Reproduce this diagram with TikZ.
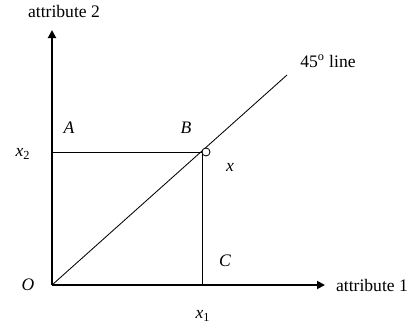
\documentclass[tikz,border=0pt]{standalone}
\usepackage{fontspec}
\setmainfont{Liberation Serif}
\usetikzlibrary{arrows.meta}

\begin{document}
\begin{tikzpicture}[
    x=0.025cm, y=0.025cm,
    axis/.style={line width=1.3pt, -{Triangle[length=0.2cm, width=0.2cm]}},
    thin line/.style={line width=0.6pt},
    lbl/.style={font=\fontsize{12.5}{15}\selectfont, inner sep=1pt},
    pt/.style={font=\fontsize{12.5}{15}\selectfont\itshape, inner sep=1pt}
]
    \useasboundingbox (-52,-44) rectangle (359,285);

    % Key points
    \coordinate (O) at (0,0);
    \coordinate (ytip) at (0,255);
    \coordinate (xtip) at (273,0);
    \coordinate (P) at (150,133);
    \coordinate (P1) at (150,0);
    \coordinate (P2) at (0,133);
    \coordinate (D) at (235,210);

    % Axes
    \draw[axis] (O) -- (ytip);
    \draw[axis] (O) -- (xtip);

    % 45 degree line and box
    \draw[thin line] (O) -- (D);
    \draw[thin line] (P2) -- (P) -- (P1);
    \draw[thin line, fill=white] (154,133) circle (4);

    % Labels
    \node[lbl] (a2) at (12,274) {attribute 2};
    \node[lbl] (a1) at (320,0) {attribute 1};
    \node[lbl] (deg) at (276,224) {45\textsuperscript{o} line};
    \node[pt] (lA) at (17,157) {A};
    \node[pt] (lB) at (134,157) {B};
    \node[pt] (lC) at (173,24) {C};
    \node[pt] (lx) at (178,118) {x};
    \node[pt] (lO) at (-24,0) {O};
    \node[lbl] (lx1) at (151,-31) {\textit{x}\textsubscript{1}};
    \node[lbl] (lx2) at (-29,131) {\textit{x}\textsubscript{2}};
\end{tikzpicture}
\end{document}
